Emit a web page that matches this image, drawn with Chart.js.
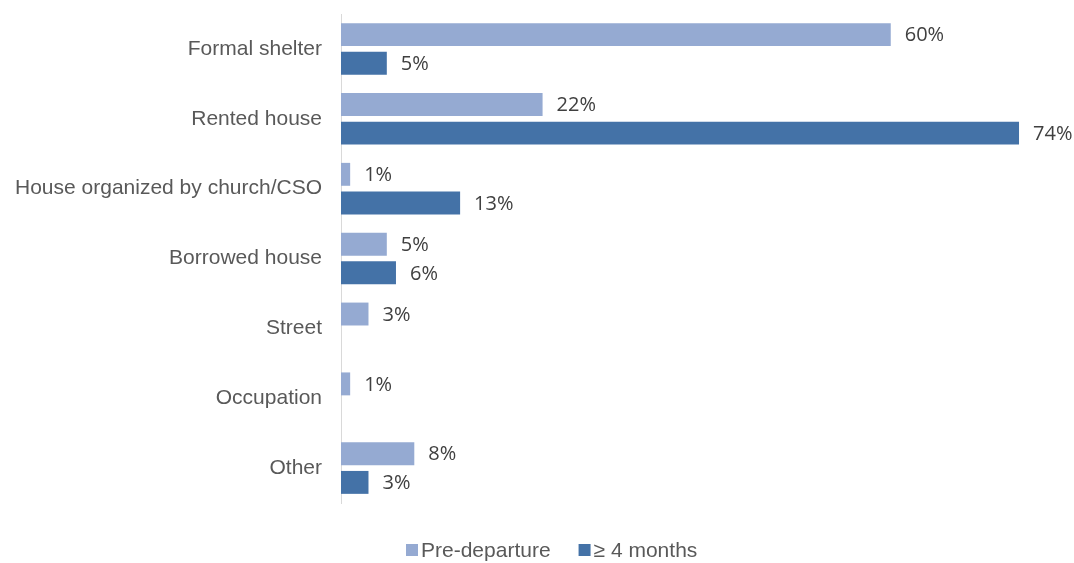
<!DOCTYPE html>
<html>
<head>
<meta charset="utf-8">
<script src="https://cdn.jsdelivr.net/npm/chart.js@4"></script>
<style>
	html, body { margin: 0; padding: 0; background: #fff; }
	#wrap { width: 1074px; height: 563px; }
</style>
</head>
<body>
<div id="wrap"><canvas id="chart" width="1074" height="563"></canvas></div>
<script>
// housing type by survey wave
var categories = ["Formal shelter", "Rented house", "House organized by church/CSO", "Borrowed house", "Street", "Occupation", "Other"];
var preDeparture = [60, 22, 1, 5, 3, 1, 8];
var fourMonths = [5, 74, 13, 6, null, null, 3];
var seriesNames = ["Pre-departure", "\u2265 4 months"];

//draws "NN%" just past the end of each bar
var valueLabels = {
	id: "valueLabels",
	afterDatasetsDraw: function( chart ){
		var ctx = chart.ctx;
		ctx.save();
		ctx.font = "20px 'Open Sans', sans-serif";
		ctx.fillStyle = "#404040";
		ctx.textAlign = "left";
		ctx.textBaseline = "middle";
		chart.data.datasets.forEach( function( ds, i ){
			var meta = chart.getDatasetMeta( i );
			meta.data.forEach( function( bar, j ){
				if( ds.data[j] == null ) return;
				ctx.fillText( ds.data[j] + "%", bar.x + 14, bar.y + 1 );
			});
		});
		ctx.restore();
	}
};

//small legend centred under the plot: square swatch, then the label
var bottomLegend = {
	id: "bottomLegend",
	afterDraw: function( chart ){
		var ctx = chart.ctx;
		var box = 12, gap = 3, spacing = 28;
		ctx.save();
		ctx.font = "21px 'Liberation Sans', Arial, sans-serif";
		ctx.textBaseline = "middle";
		ctx.textAlign = "left";
		var items = chart.data.datasets.map( function( ds ){
			return { text: ds.label, color: ds.backgroundColor, w: ctx.measureText( ds.label ).width };
		});
		var total = 0;
		items.forEach( function( it, i ){
			total += box + gap + it.w + ( i ? spacing : 0 );
		});
		var x = Math.round( ( chart.width - total ) / 2 ) + 15, y = 550;
		items.forEach( function( it ){
			ctx.fillStyle = it.color;
			ctx.fillRect( x, y - box / 2, box, box );
			ctx.fillStyle = "#595959";
			ctx.fillText( it.text, x + box + gap, y + 1 );
			x += box + gap + it.w + spacing;
		});
		ctx.restore();
	}
};

var ctx = document.getElementById("chart").getContext("2d");
new Chart( ctx, {
	type: "bar",
	data: {
		labels: categories,
		datasets: [{
			label: seriesNames[0],
			backgroundColor: "#95AAD2",
			data: preDeparture,
			categoryPercentage: 0.82,
			barPercentage: 0.8
		},{
			label: seriesNames[1],
			backgroundColor: "#4472A7",
			data: fourMonths,
			categoryPercentage: 0.82,
			barPercentage: 0.8
		}]
	},
	options: {
		indexAxis: "y",
		responsive: false,
		animation: false,
		layout: { padding: { top: 14, right: 0, left: 0, bottom: 60 } },
		scales: {
			x: { display: false, min: 0, max: 80 },
			y: {
				grid: { display: false },
				border: { display: true, color: "#D9D9D9", width: 1 },
				ticks: {
					color: "#595959",
					padding: 11,
					font: { family: "'Liberation Sans', Arial, sans-serif", size: 21 }
				},
				afterFit: function( scale ){
					scale.width = 341;
					scale.paddingTop = 0;
					scale.paddingBottom = 0;
				}
			}
		},
		plugins: {
			legend: { display: false },
			tooltip: { enabled: false }
		}
	},
	plugins: [ valueLabels, bottomLegend ]
});
</script>
</body>
</html>
